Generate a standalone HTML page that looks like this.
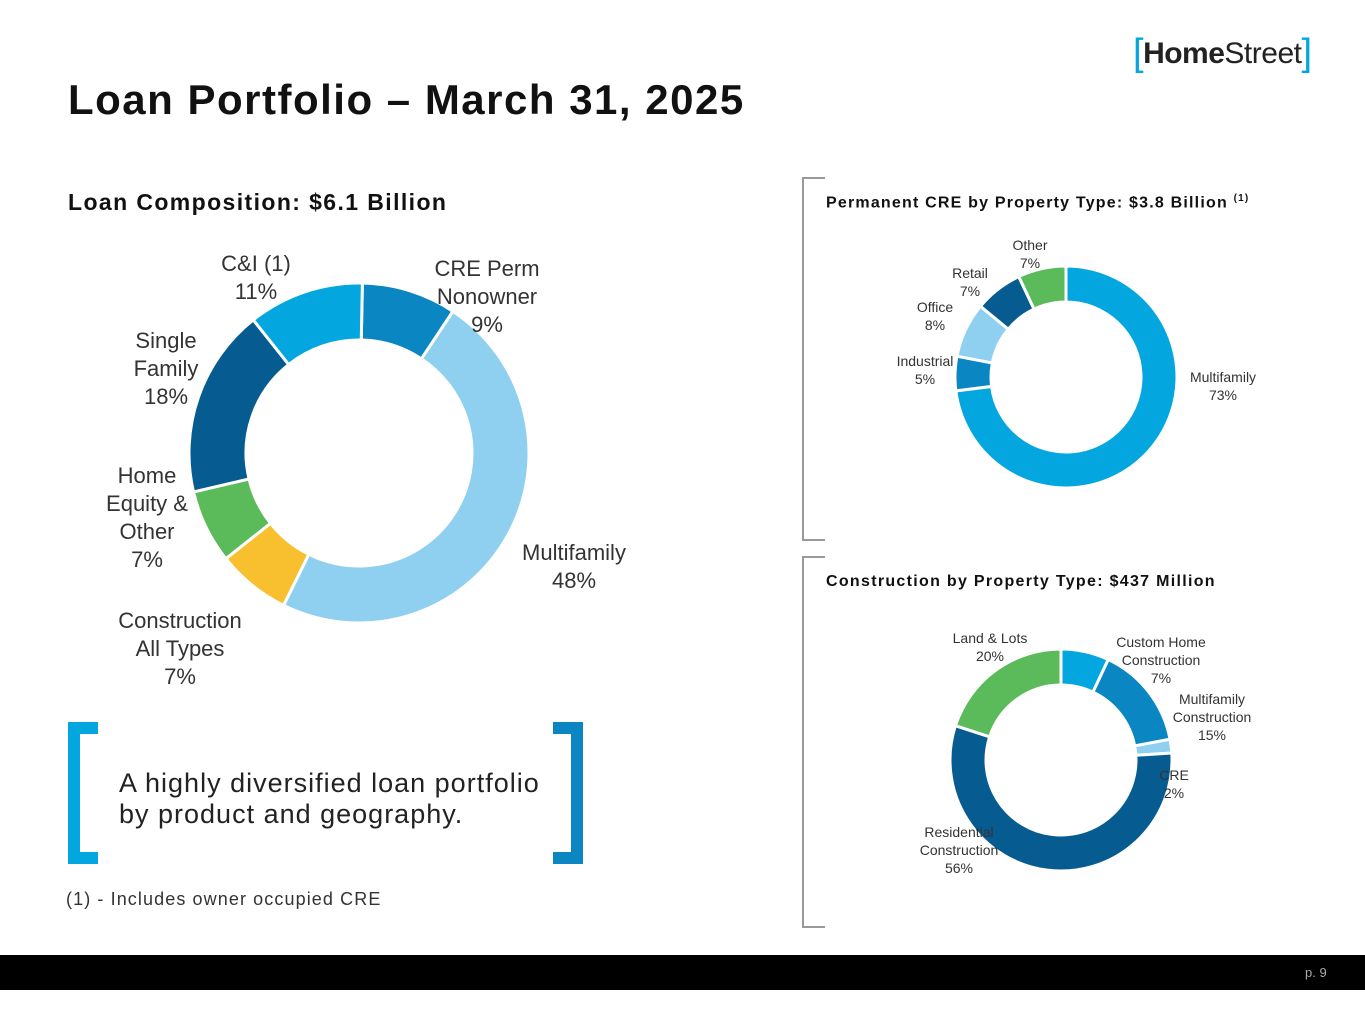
<!DOCTYPE html>
<html><head><meta charset="utf-8">
<style>
body{margin:0;width:1365px;height:1024px;background:#fff;position:relative;overflow:hidden;font-family:"Liberation Sans",sans-serif;color:#222}
.abs{position:absolute}
</style></head><body>
<div class="abs" style="left:1133px;top:30px;font-size:30px;font-weight:bold;color:#222;letter-spacing:-0.5px">
<span style="color:#03a6df;font-weight:normal;font-size:38px;position:relative;top:2px">[</span>Home<span style="font-weight:normal">Street</span><span style="color:#03a6df;font-weight:normal;font-size:38px;position:relative;top:2px">]</span></div>
<div class="abs" style="left:68px;top:76px;font-size:42px;font-weight:bold;color:#111;letter-spacing:1.5px">Loan Portfolio – March 31, 2025</div>
<div class="abs" style="left:68px;top:189px;font-size:23px;font-weight:bold;color:#111;letter-spacing:1.4px">Loan Composition: $6.1 Billion</div>
<div class="abs" style="left:826px;top:193px;font-size:16px;font-weight:bold;color:#111;letter-spacing:1.2px">Permanent CRE by Property Type: $3.8 Billion <sup style="font-size:10px">(1)</sup></div>
<div class="abs" style="left:826px;top:573px;font-size:16px;font-weight:bold;color:#111;letter-spacing:1.3px">Construction by Property Type: $437 Million</div>
<div class="abs" style="left:119px;top:768px;font-size:27px;line-height:31px;color:#222;letter-spacing:1px">A highly diversified loan portfolio<br>by product and geography.</div>
<div class="abs" style="left:66px;top:889px;font-size:18px;color:#333;letter-spacing:1.1px">(1) - Includes owner occupied CRE</div>
<div class="abs" style="left:0;top:955px;width:1365px;height:35px;background:#000"></div>
<div class="abs" style="left:1305px;top:965px;font-size:13px;color:#aaa">p. 9</div>
<svg class="abs" style="left:0;top:0" width="1365" height="1024" id="svg">
<g fill="#03a6df"><rect x="68" y="722" width="12" height="142"/><rect x="68" y="722" width="30" height="12"/><rect x="68" y="852" width="30" height="12"/></g>
<g fill="#0a86c2"><rect x="571" y="722" width="12" height="142"/><rect x="553" y="722" width="30" height="12"/><rect x="553" y="852" width="30" height="12"/></g>
<path d="M825 178H803V540H825" stroke="#999" stroke-width="2" fill="none"/>
<path d="M825 557H803V927H825" stroke="#999" stroke-width="2" fill="none"/>
</svg>
<script>
const mainCats=["CRE Perm Nonowner","Multifamily","Construction All Types","Home Equity & Other","Single Family","C&I (1)"];
const mainVals=[9,48,7,7,18,11];
const mainColors=["#0a86c2","#8fcff0","#f8bf2e","#5bbb5b","#065b90","#03a6df"];
const permCats=["Multifamily","Industrial","Office","Retail","Other"];
const permVals=[73,5,8,7,7];
const permColors=["#03a6df","#0a86c2","#8fcff0","#065b90","#5bbb5b"];
const consCats=["Custom Home Construction","Multifamily Construction","CRE","Residential Construction","Land & Lots"];
const consVals=[7,15,2,56,20];
const consColors=["#03a6df","#0a86c2","#8fcff0","#065b90","#5bbb5b"];
const svg=document.getElementById('svg');
const NS='http://www.w3.org/2000/svg';
function donut(name,cats,vals,colors,cx,cy,R,r,start){
  const tot=vals.reduce((a,b)=>a+b,0);let a=0;const off=start||0;
  vals.forEach((v,i)=>{
    const a0=a/tot*2*Math.PI+off,a1=(a+v)/tot*2*Math.PI+off;a+=v;
    const p=(ang,rad)=>[cx+rad*Math.sin(ang),cy-rad*Math.cos(ang)];
    const [x0,y0]=p(a0,R),[x1,y1]=p(a1,R),[x2,y2]=p(a1,r),[x3,y3]=p(a0,r);
    const lg=(a1-a0)>Math.PI?1:0;
    const path=document.createElementNS(NS,'path');
    path.setAttribute('d',`M${x0} ${y0}A${R} ${R} 0 ${lg} 1 ${x1} ${y1}L${x2} ${y2}A${r} ${r} 0 ${lg} 0 ${x3} ${y3}Z`);
    path.setAttribute('fill',colors[i]);path.setAttribute('stroke','#fff');path.setAttribute('stroke-width','3');
    
    
    svg.appendChild(path);
  });
}
donut('loan-composition',mainCats,mainVals,mainColors,359,453,170,113,0.02);
donut('perm-cre',permCats,permVals,permColors,1066,377,111,75);
donut('construction',consCats,consVals,consColors,1061,760,111,75);
function label(name,lines,x,y,size,lh,anchor){
  const t=document.createElementNS(NS,'text');
  t.setAttribute('font-size',size);t.setAttribute('fill','#333');t.setAttribute('text-anchor',anchor||'middle');
  t.setAttribute('font-family','Liberation Sans, sans-serif');
  lines.forEach((l,i)=>{const s=document.createElementNS(NS,'tspan');s.setAttribute('x',x);s.setAttribute('y',y+i*lh);s.textContent=l;t.appendChild(s);});
  
  
  svg.appendChild(t);
}
label('label-cre-perm',["CRE Perm","Nonowner",mainVals[0]+"%"],487,276,22,28);
label('label-multifamily',["Multifamily",mainVals[1]+"%"],574,560,22,28);
label('label-construction',["Construction","All Types",mainVals[2]+"%"],180,628,22,28);
label('label-home-equity',["Home","Equity &","Other",mainVals[3]+"%"],147,483,22,28);
label('label-single-family',["Single","Family",mainVals[4]+"%"],166,348,22,28);
label('label-ci',["C&I (1)",mainVals[5]+"%"],256,271,22,28);
label('perm-label-multifamily',["Multifamily",permVals[0]+"%"],1223,382,14,18);
label('perm-label-industrial',["Industrial",permVals[1]+"%"],925,366,14,18);
label('perm-label-office',["Office",permVals[2]+"%"],935,312,14,18);
label('perm-label-retail',["Retail",permVals[3]+"%"],970,278,14,18);
label('perm-label-other',["Other",permVals[4]+"%"],1030,250,14,18);
label('cons-label-custom',["Custom Home","Construction",consVals[0]+"%"],1161,647,14,18);
label('cons-label-multifamily',["Multifamily","Construction",consVals[1]+"%"],1212,704,14,18);
label('cons-label-cre',["CRE",consVals[2]+"%"],1174,780,14,18);
label('cons-label-residential',["Residential","Construction",consVals[3]+"%"],959,837,14,18);
label('cons-label-land',["Land & Lots",consVals[4]+"%"],990,643,14,18);
</script>
</body></html>
